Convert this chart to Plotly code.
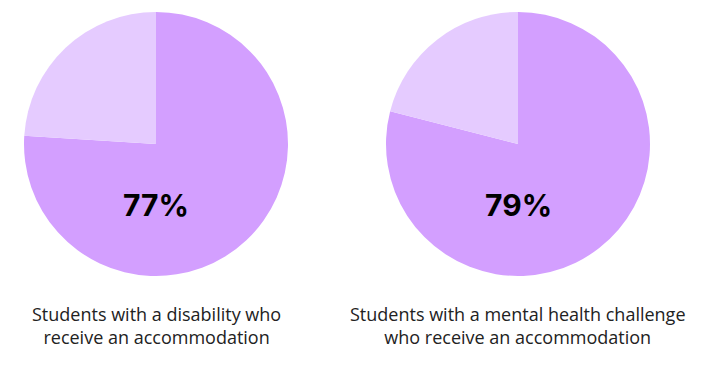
import plotly.graph_objects as go

# slice values
left_values = [76, 24]
right_values = [79, 21]
slice_labels = ["Receive an accommodation", "Do not receive"]
center_texts = ["77%", "79%"]
captions = ["Students with a disability who<br>receive an accommodation",
            "Students with a mental health challenge<br>who receive an accommodation"]

W, H = 714, 376
colors = ["#d39fff", "#e5cbff"]

def dom(cx, cy, r):
    return dict(x=[(cx - r) / W, (cx + r) / W], y=[1 - (cy + r) / H, 1 - (cy - r) / H])

fig = go.Figure()
for vals, cx in [(left_values, 156), (right_values, 518)]:
    fig.add_trace(go.Pie(
        values=vals, labels=slice_labels, sort=False, direction="clockwise", rotation=0,
        marker=dict(colors=colors, line=dict(width=0)),
        textinfo="none", hoverinfo="label+percent", domain=dom(cx, 144, 132),
        showlegend=False,
    ))

for txt, cap, cx in zip(center_texts, captions, [156, 518]):
    fig.add_annotation(x=cx / W, y=1 - 205 / H, xref="paper", yref="paper", text=f"<b>{txt}</b>",
                       xanchor="center", yanchor="middle",
                       showarrow=False, font=dict(family="Inter", size=30, color="#000000"))
    fig.add_annotation(x=cx / W, y=1 - 325 / H, xref="paper", yref="paper", text=cap,
                       xanchor="center", yanchor="middle",
                       showarrow=False, align="center",
                       font=dict(family="Open Sans", size=18, color="#222222"))

fig.update_layout(width=W, height=H, margin=dict(l=0, r=0, t=0, b=0),
                  paper_bgcolor="white", plot_bgcolor="white")
fig.write_html("out.html")
